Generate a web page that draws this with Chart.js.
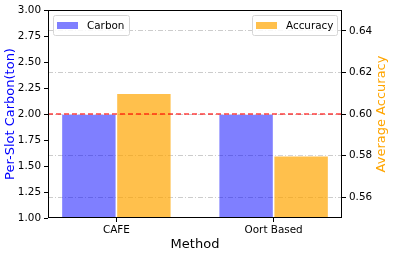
<!DOCTYPE html>
<html>
<head>
<meta charset="utf-8">
<script src="https://cdn.jsdelivr.net/npm/chart.js@4"></script>
<style>
  html, body { margin: 0; padding: 0; background: #fff; }
  #wrap { width: 395px; height: 260px; }
</style>
</head>
<body>
<div id="wrap"><canvas id="BarChart" width="395" height="260"></canvas></div>
<script>
// values
const categories = ['CAFE', 'Oort Based'];
const carbon = [2.0, 2.0];
const accuracy = [0.61, 0.58];
const carbonTicks = [1.00, 1.25, 1.50, 1.75, 2.00, 2.25, 2.50, 2.75, 3.00];
const accuracyTicks = [0.56, 0.58, 0.60, 0.62, 0.64];
const carbonLimit = 2.0;

const FONT = "'DejaVu Sans', sans-serif";
const blueFill = 'rgba(0, 0, 255, 0.5)';
const orangeFill = 'rgba(255, 165, 0, 0.7)';

// spines, reference line, axis titles and the two separate legends
const decorations = {
    id: 'decorations',
    afterDraw(chart) {
        const ctx = chart.ctx;
        const area = chart.chartArea;
        ctx.save();

        // red dashed line at the carbon limit
        const yLim = chart.scales.y.getPixelForValue(carbonLimit);
        ctx.strokeStyle = 'rgba(255, 0, 0, 0.75)';
        ctx.lineWidth = 1.5;
        ctx.setLineDash([5, 3]);
        ctx.beginPath();
        ctx.moveTo(area.left, yLim);
        ctx.lineTo(area.right, yLim);
        ctx.stroke();
        ctx.setLineDash([]);

        // frame
        ctx.strokeStyle = '#000';
        ctx.lineWidth = 1;
        ctx.strokeRect(area.left + 0.5, area.top + 0.5, area.right - area.left - 1, area.bottom - area.top - 1);

        // axis titles
        ctx.textAlign = 'center';
        ctx.textBaseline = 'middle';
        ctx.font = '13px ' + FONT;
        ctx.fillStyle = '#000';
        ctx.fillText('Method', (area.left + area.right) / 2, 245);

        ctx.save();
        ctx.translate(11, (area.top + area.bottom) / 2);
        ctx.rotate(-Math.PI / 2);
        ctx.fillStyle = '#0000ff';
        ctx.fillText('Per-Slot Carbon(ton)', 0, 0);
        ctx.restore();

        ctx.save();
        ctx.translate(382, (area.top + area.bottom) / 2);
        ctx.rotate(-Math.PI / 2);
        ctx.fillStyle = '#ffa500';
        ctx.fillText('Average Accuracy', 0, 0);
        ctx.restore();

        // legends
        ctx.font = '10.4px ' + FONT;
        ctx.textAlign = 'left';
        const drawLegend = (x, y, w, label, color) => {
            ctx.fillStyle = 'rgba(255,255,255,0.85)';
            ctx.strokeStyle = '#d6d6d6';
            ctx.lineWidth = 1;
            ctx.beginPath();
            ctx.roundRect(x + 0.5, y + 0.5, w, 20, 2);
            ctx.fill();
            ctx.stroke();
            ctx.fillStyle = color;
            ctx.fillRect(x + 4, y + 7, 21, 7);
            ctx.fillStyle = '#000';
            ctx.fillText(label, x + 34, y + 11);
        };
        const ds = chart.data.datasets;
        drawLegend(area.left + 5, area.top + 5, 76, ds[0].label, ds[0].backgroundColor);
        drawLegend(area.right - 90, area.top + 5, 85, ds[1].label, ds[1].backgroundColor);

        ctx.restore();
    }
};

const tickFont = { family: FONT, size: 10.4 };

const ctx = document.getElementById('BarChart').getContext('2d');
new Chart(ctx, {
    type: 'bar',
    data: {
        datasets: [{
            label: 'Carbon',
            data: carbon.map((v, i) => ({ x: i, y: v })),
            backgroundColor: blueFill,
            borderColor: 'rgba(255,255,255,0.6)',
            borderWidth: 0.8,
            yAxisID: 'y'
        }, {
            label: 'Accuracy',
            data: accuracy.map((v, i) => ({ x: i, y: v })),
            backgroundColor: orangeFill,
            borderColor: 'rgba(255,255,255,0.6)',
            borderWidth: 0.8,
            yAxisID: 'y1'
        }]
    },
    options: {
        responsive: false,
        animation: false,
        layout: { padding: { top: 10 } },
        categoryPercentage: 0.7,
        barPercentage: 1.0,
        plugins: {
            legend: { display: false },
            tooltip: { enabled: false }
        },
        scales: {
            x: {
                type: 'linear',
                min: -0.435,
                max: 1.435,
                offset: false,
                afterBuildTicks: (scale) => { scale.ticks = categories.map((_, i) => ({ value: i })); },
                afterFit: (scale) => { scale.height = 42; },
                ticks: {
                    font: tickFont,
                    color: '#000',
                    padding: 2,
                    maxRotation: 0,
                    callback: (v) => categories[v]
                },
                grid: { drawOnChartArea: false, offset: false, tickLength: 4, tickColor: '#000' },
                border: { display: false }
            },
            y: {
                position: 'left',
                min: carbonTicks[0],
                max: carbonTicks[carbonTicks.length - 1],
                afterBuildTicks: (scale) => { scale.ticks = carbonTicks.map(v => ({ value: v })); },
                afterFit: (scale) => { scale.width = 48; },
                ticks: {
                    font: tickFont,
                    color: '#000',
                    padding: 3,
                    callback: (v) => v.toFixed(2)
                },
                grid: { drawOnChartArea: false, tickLength: 4, tickColor: '#000' },
                border: { display: false }
            },
            y1: {
                position: 'right',
                min: 0.55,
                max: 0.65,
                z: 1,
                afterBuildTicks: (scale) => { scale.ticks = accuracyTicks.map(v => ({ value: v })); },
                afterFit: (scale) => { scale.width = 53; },
                ticks: {
                    font: tickFont,
                    color: '#000',
                    padding: 3,
                    callback: (v) => v.toFixed(2)
                },
                grid: {
                    color: 'rgba(195,195,195,0.85)',
                    lineWidth: 1,
                    tickLength: 4,
                    tickColor: '#000',
                    tickBorderDash: []
                },
                border: { display: false, dash: [5, 2, 1, 2] }
            }
        }
    },
    plugins: [decorations]
});
</script>
</body>
</html>
